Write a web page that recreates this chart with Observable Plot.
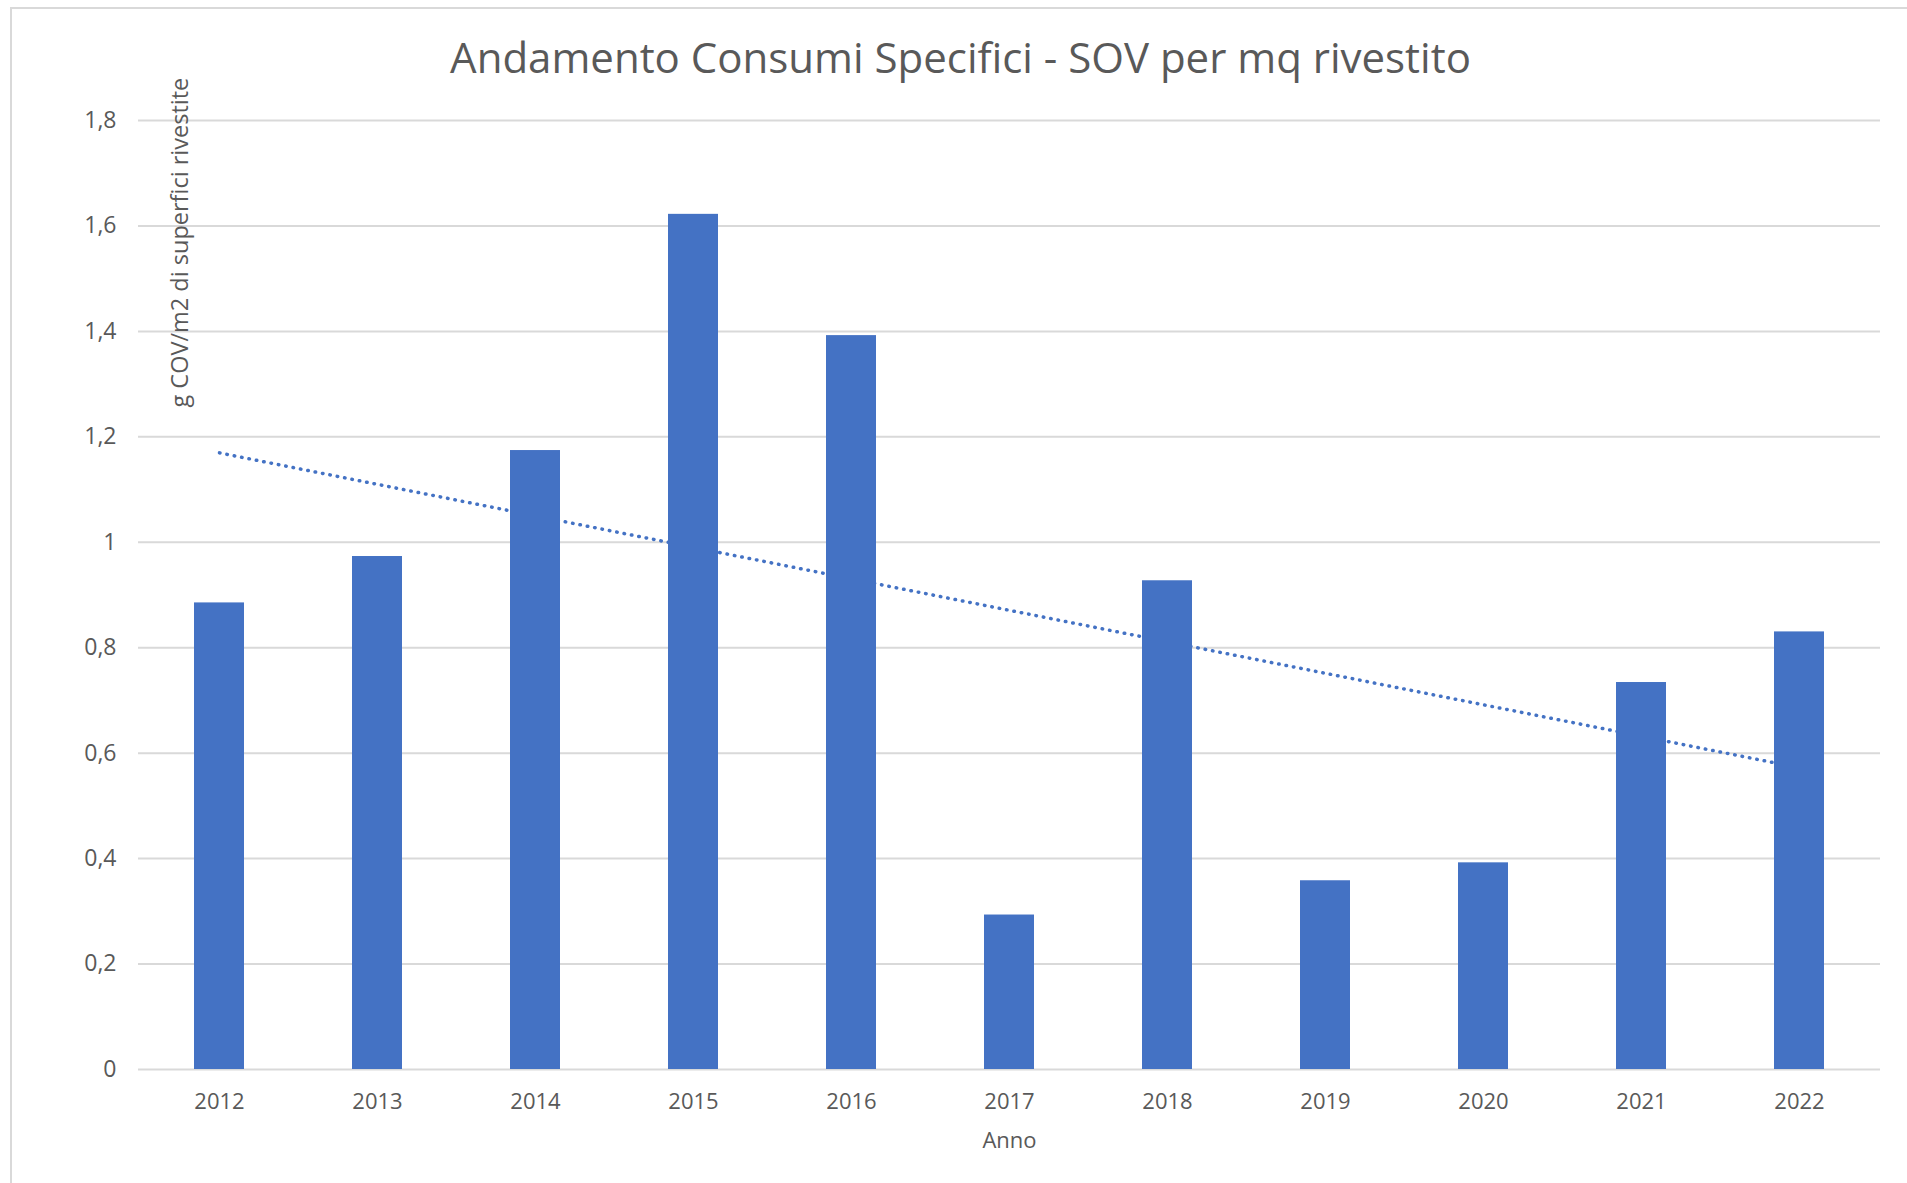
<!DOCTYPE html>
<html>
<head>
<meta charset="utf-8">
<script src="https://cdn.jsdelivr.net/npm/d3@7"></script>
<script src="https://cdn.jsdelivr.net/npm/@observablehq/plot@0.6"></script>
<style>
  html, body { margin: 0; padding: 0; background: #ffffff; }
  #wrap { position: relative; width: 1907px; height: 1183px; overflow: hidden; background: #ffffff; }
  #frame { position: absolute; left: 10px; top: 7px; width: 1920px; height: 1200px;
           border-left: 2px solid #d9d9d9; border-top: 2px solid #d9d9d9; box-sizing: border-box; }
  #chart { position: absolute; left: 0; top: 40px; }
  #title { position: absolute; left: 7px; top: 36px; width: 1907px; text-align: center;
           font-family: "Open Sans", sans-serif; font-size: 42px; color: #595959; line-height: 1; }
</style>
</head>
<body>
<div id="wrap">
  <div id="frame"></div>
  <div id="chart"></div>
  <div id="title">Andamento Consumi Specifici - SOV per mq rivestito</div>
</div>
<script>
const years = ["2012", "2013", "2014", "2015", "2016", "2017", "2018", "2019", "2020", "2021", "2022"];
const values = [0.885, 0.973, 1.174, 1.622, 1.392, 0.293, 0.927, 0.358, 0.392, 0.734, 0.830];
const yTicks = [0, 0.2, 0.4, 0.6, 0.8, 1, 1.2, 1.4, 1.6, 1.8];
const yTitle = "g COV/m2 di superfici rivestite";
const xTitle = "Anno";

const data = years.map((year, i) => ({year, value: values[i]}));

// linear trend line (least squares over year index), as in the original
const n = values.length;
const mx = (n - 1) / 2;
const my = d3.mean(values);
const slope = d3.sum(values, (v, i) => (i - mx) * (v - my)) / d3.sum(values, (v, i) => (i - mx) ** 2);
const intercept = my - slope * mx;
const trend = [0, n - 1].map(i => ({year: years[i], value: intercept + slope * i}));

const fmt = d => String(d).replace(".", ",");
const blue = "#4472C4";
const textColor = "#595959";

const chart = Plot.plot({
  width: 1907,
  height: 1143,
  marginLeft: 138,
  marginRight: 27,
  marginTop: 80,
  marginBottom: 114,
  style: {fontFamily: "Open Sans, sans-serif", fontSize: "22px", color: textColor, background: "transparent"},
  x: {domain: years, paddingInner: 0.684, paddingOuter: 0.342, label: null},
  y: {domain: [0, 1.8], label: null},
  marks: [
    Plot.gridY(yTicks, {stroke: "#d9d9d9", strokeOpacity: 1, strokeWidth: 2}),
    Plot.line(trend, {x: "year", y: "value", stroke: blue, strokeWidth: 3.5, strokeDasharray: "0.5 7", strokeLinecap: "round"}),
    Plot.barY(data, {x: "year", y: "value", fill: blue}),
    Plot.axisX({tickSize: 0, tickPadding: 24, label: null, fill: textColor}),
    Plot.axisY({ticks: yTicks, tickFormat: fmt, tickSize: 0, tickPadding: 22, label: null, fill: textColor, fontSize: 23}),
    Plot.text([xTitle], {frameAnchor: "bottom", lineAnchor: "middle", dy: 71, fill: textColor, fontSize: 22}),
    Plot.text([yTitle], {frameAnchor: "top-left", rotate: -90, textAnchor: "start", lineAnchor: "middle", dx: 42, dy: 287, fill: textColor, fontSize: 23.5})
  ]
});
document.getElementById("chart").appendChild(chart);
</script>
</body>
</html>
